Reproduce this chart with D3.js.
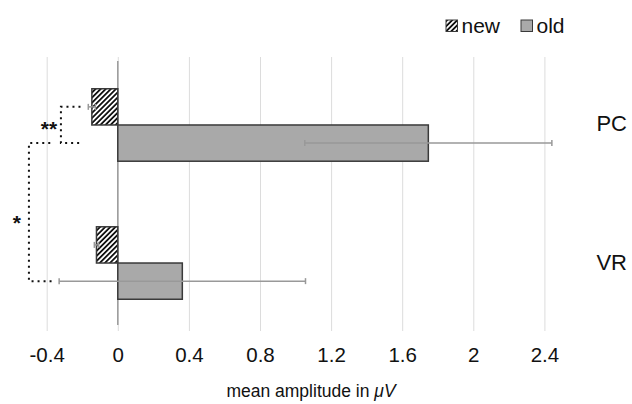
<!DOCTYPE html>
<html>
<head>
<meta charset="utf-8">
<script src="https://cdn.jsdelivr.net/npm/d3@7"></script>
<style>
  body { margin: 0; background: #fff; }
  svg { font-family: "Liberation Sans", Arial, sans-serif; }
</style>
</head>
<body>
<svg id="chart" width="632" height="404"></svg>
<script>
const categories = ["PC", "VR"];
const series = ["new", "old"];
const newValues = [-0.146, -0.12];
const newErrors = [0.02, 0.012];
const oldValues = [1.747, 0.363];
const oldErrors = [0.695, 0.693];
const tickValues = [-0.4, 0, 0.4, 0.8, 1.2, 1.6, 2, 2.4];

// significance brackets: x in data units, between [category, series] pairs
const brackets = [
  { label: "**", from: ["PC", "new"], to: ["PC", "old"], inner: -0.21, outer: -0.32, innerTo: -0.21, dy: 11 },
  { label: "*", from: ["PC", "old"], to: ["VR", "old"], inner: -0.38, outer: -0.5, innerTo: -0.37, dy: 18 },
];

const width = 632;
const height = 404;
const plot = { top: 57, bottom: 331 };

const svg = d3.select("#chart");

const x = d3.scaleLinear().domain([-0.4, 2.4]).range([46.7, 544.4]);

const y = d3
  .scaleBand()
  .domain(categories)
  .range([plot.top, plot.bottom])
  .paddingInner(0.475)
  .paddingOuter(0.23);

const ySeries = d3.scaleBand().domain(series).range([0, y.bandwidth()]);

const rows = categories.flatMap((c, i) => [
  { cat: c, s: "new", value: newValues[i], err: newErrors[i] },
  { cat: c, s: "old", value: oldValues[i], err: oldErrors[i] },
]);

const cy = (cat, s) => y(cat) + ySeries(s) + ySeries.bandwidth() / 2;

// hatch pattern
const defs = svg.append("defs");
defs
  .append("pattern")
  .attr("id", "hatch")
  .attr("patternUnits", "userSpaceOnUse")
  .attr("width", 3.6)
  .attr("height", 3.6)
  .attr("patternTransform", "rotate(45)")
  .call((p) => {
    p.append("rect").attr("width", 3.6).attr("height", 3.6).attr("fill", "#fff");
    p.append("rect").attr("width", 1.8).attr("height", 3.6).attr("fill", "#111");
  });

const fillFor = (s) => (s === "new" ? "url(#hatch)" : "#a9a9a9");

// gridlines + tick labels
const xAxis = svg
  .append("g")
  .attr("transform", `translate(0,${plot.bottom})`)
  .call(
    d3
      .axisBottom(x)
      .tickValues(tickValues)
      .tickSize(-(plot.bottom - plot.top))
      .tickPadding(16)
      .tickFormat((d) => String(+d.toFixed(1)))
  );
xAxis.select(".domain").remove();
xAxis.selectAll(".tick line").attr("stroke", "#dcdcdc").attr("stroke-width", 1);
xAxis
  .selectAll(".tick text")
  .attr("font-size", "20.5px")
  .attr("fill", "#111")
  .attr("font-family", "Liberation Sans, Arial, sans-serif");

// zero axis
svg
  .append("line")
  .attr("x1", x(0))
  .attr("x2", x(0))
  .attr("y1", 61)
  .attr("y2", 325)
  .attr("stroke", "#888")
  .attr("stroke-width", 1.2);

// bars
svg
  .selectAll(".bar")
  .data(rows)
  .enter()
  .append("rect")
  .attr("class", "bar")
  .attr("x", (d) => x(Math.min(0, d.value)))
  .attr("y", (d) => y(d.cat) + ySeries(d.s))
  .attr("width", (d) => Math.abs(x(d.value) - x(0)))
  .attr("height", ySeries.bandwidth())
  .attr("fill", (d) => fillFor(d.s))
  .attr("stroke", "#3a3a3a")
  .attr("stroke-width", 1.5);

// error bars
const eb = svg.selectAll(".err").data(rows).enter().append("g").attr("class", "err")
  .attr("stroke", "#999").attr("stroke-width", 1.5);
eb.append("line")
  .attr("x1", (d) => x(d.value - d.err))
  .attr("x2", (d) => x(d.value + d.err))
  .attr("y1", (d) => cy(d.cat, d.s))
  .attr("y2", (d) => cy(d.cat, d.s));
eb.selectAll(".cap")
  .data((d) => [d.value - d.err, d.value + d.err].map((v) => ({ v, yy: cy(d.cat, d.s) })))
  .enter()
  .append("line")
  .attr("x1", (c) => x(c.v))
  .attr("x2", (c) => x(c.v))
  .attr("y1", (c) => c.yy - 3)
  .attr("y2", (c) => c.yy + 3);

// significance brackets
brackets.forEach((b) => {
  const y1 = cy(b.from[0], b.from[1]);
  const y2 = cy(b.to[0], b.to[1]);
  const path = d3.path();
  path.moveTo(x(b.inner), y1);
  path.lineTo(x(b.outer), y1);
  path.lineTo(x(b.outer), y2);
  path.lineTo(x(b.innerTo), y2);
  svg
    .append("path")
    .attr("d", path.toString())
    .attr("fill", "none")
    .attr("stroke", "#111")
    .attr("stroke-width", 2)
    .attr("stroke-dasharray", "2,4");
  svg
    .append("text")
    .attr("x", x(b.outer) - 12)
    .attr("y", (y1 + y2) / 2 + b.dy)
    .attr("text-anchor", "middle")
    .attr("font-size", "21px")
    .attr("font-weight", "bold")
    .attr("fill", "#111")
    .text(b.label);
});

// category labels
svg
  .selectAll(".cat")
  .data(categories)
  .enter()
  .append("text")
  .attr("class", "cat")
  .attr("x", 627)
  .attr("y", (d) => y(d) + y.bandwidth() / 2 + 6.5)
  .attr("text-anchor", "end")
  .attr("font-size", "22px")
  .attr("fill", "#111")
  .text((d) => d);

// legend
const legendX = [446, 521];
const legend = svg
  .selectAll(".legend")
  .data(series)
  .enter()
  .append("g")
  .attr("transform", (d, i) => `translate(${legendX[i]},20)`);
legend
  .append("rect")
  .attr("width", 11.5)
  .attr("height", 11.5)
  .attr("fill", (d) => fillFor(d))
  .attr("stroke", "#3a3a3a")
  .attr("stroke-width", 1);
legend
  .append("text")
  .attr("x", 15.5)
  .attr("y", 13.3)
  .attr("font-size", "21px")
  .attr("fill", "#111")
  .text((d) => d);

// axis title
const title = svg
  .append("text")
  .attr("x", 311)
  .attr("y", 397)
  .attr("text-anchor", "middle")
  .attr("font-size", "17.5px")
  .attr("fill", "#111");
title.append("tspan").text("mean amplitude in ");
title.append("tspan").attr("font-style", "italic").text("\u03bcV");
</script>
</body>
</html>
